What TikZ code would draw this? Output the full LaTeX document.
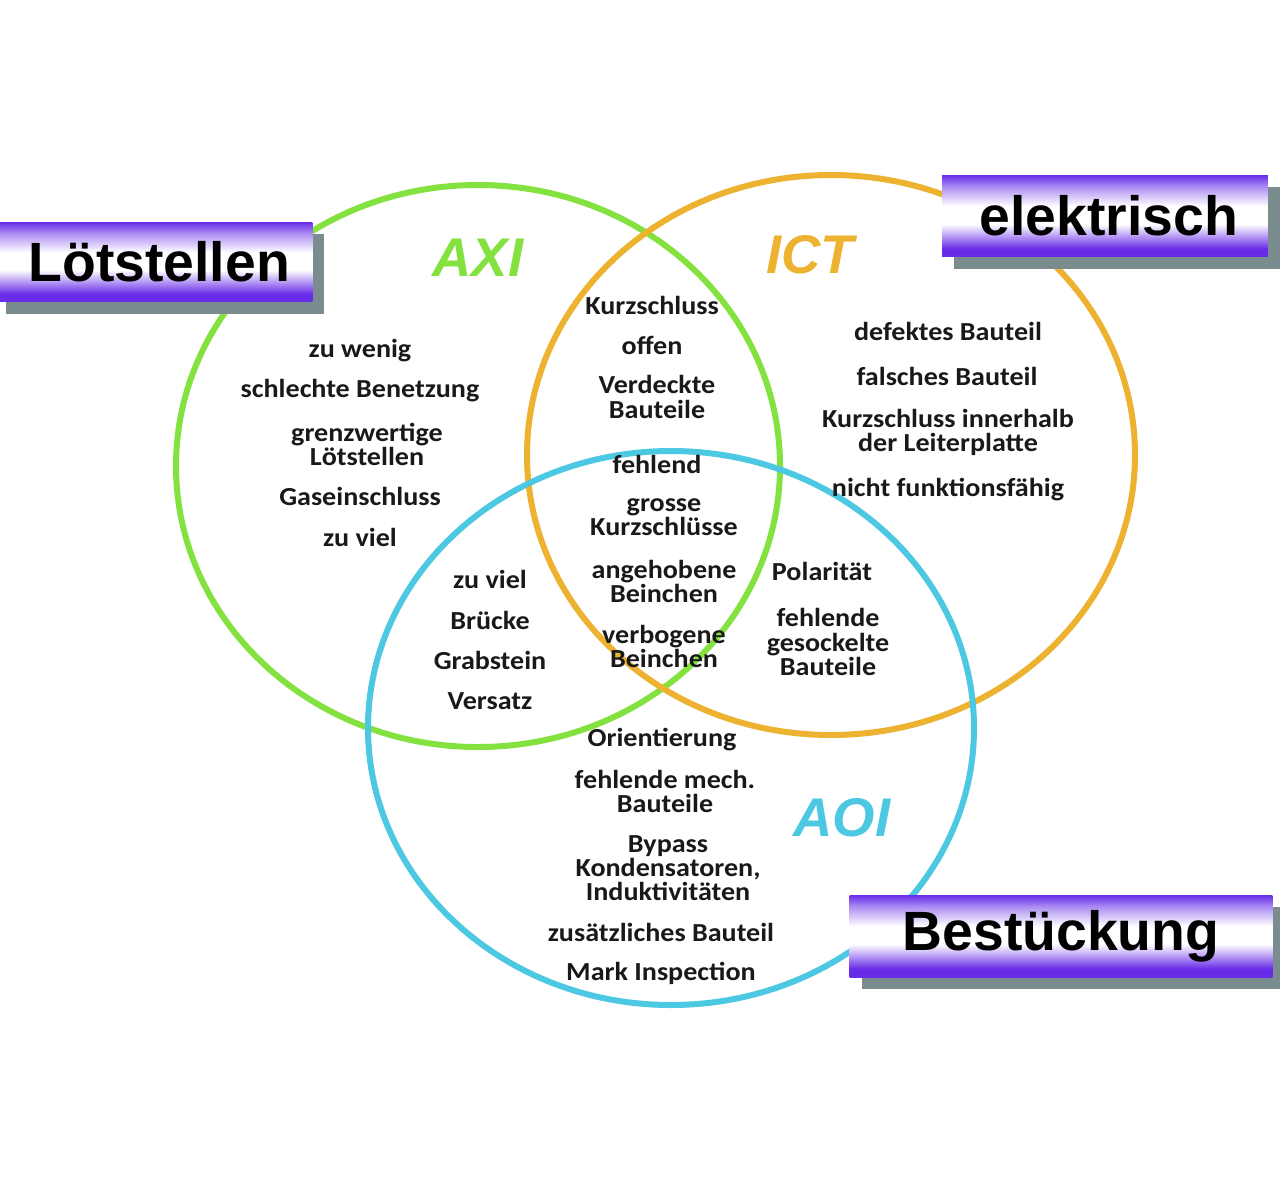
\documentclass[tikz,border=0pt]{standalone}
\usepackage{fontspec}
\newfontfamily\itemfont[FakeStretch = 1.08]{Carlito}
\newfontfamily\boxfont{Liberation Sans}
\usetikzlibrary{shadows}
\lineskiplimit = -100pt
\definecolor{axigreen}{RGB}{132,226,64}
\definecolor{ictorange}{RGB}{236,178,48}
\definecolor{aoiblue}{RGB}{76,200,226}
\definecolor{boxviolet}{RGB}{104,44,232}
\definecolor{boxshadow}{RGB}{122,140,142}
\pgfdeclareverticalshading{boxfade}{100bp}{color(0bp)=(boxviolet); color(25bp)=(boxviolet); color(30bp)=(boxviolet); color(45bp)=(white); color(56bp)=(white); color(68bp)=(boxviolet!55!white); color(75bp)=(boxviolet); color(100bp)=(boxviolet)}
\tikzset{
  ring/.style = {line width = 0.12cm},
  finding/.style = {font = \itemfont\bfseries\fontsize{14.8}{13.7}\selectfont, align = center, inner sep = 0pt, text = black!90},
  method/.style = {font = \boxfont\bfseries\itshape\fontsize{31}{36}\selectfont, inner sep = 0pt},
  labelbox/.style = {shading = boxfade, font = \boxfont\bfseries\fontsize{31.5}{36}\selectfont, inner sep = 0pt,
    general shadow = {fill = boxshadow, shadow xshift = 0.24cm, shadow yshift = -0.24cm}}
}
\begin{document}
\begin{tikzpicture}[x = 0.02cm, y = -0.02cm]
  \fill[white] (0, 0) rectangle (1280, 1190);
  \useasboundingbox (0, 0) rectangle (1280, 1190);
  \draw[ring, axigreen] (478, 466) ellipse [x radius = 302, y radius = 281];
  \draw[ring, ictorange] (831, 455) ellipse [x radius = 304, y radius = 280];
  \draw[ring, aoiblue] (671, 728) ellipse [x radius = 303, y radius = 277];
  \foreach \px/\py/\txt [count = \k] in {
      360/351/zu wenig, 360/391/schlechte Benetzung, 367/444/{grenzwertige\\Lötstellen},
      360/496/Gaseinschluss, 360/537/zu viel,
      652/305/Kurzschluss, 652/345/offen, 657/397/{Verdeckte\\Bauteile},
      657/464/fehlend, 664/517/{grosse\\Kurzschlüsse}, 664/581/{angehobene\\Beinchen},
      664/646/{verbogene\\Beinchen},
      490/579/zu viel, 490/620/Brücke, 490/660/Grabstein, 490/701/Versatz,
      948/331/defektes Bauteil, 947/376/falsches Bauteil,
      948/432/{Kurzschluss innerhalb\\der Leiterplatte}, 948/490/nicht funktionsfähig,
      822/571/Polarität, 828/642/{fehlende\\gesockelte\\Bauteile},
      662/740/Orientierung, 665/791/{fehlende mech.\\Bauteile},
      668/868/{Bypass\\Kondensatoren,\\Induktivitäten},
      661/932/zusätzliches Bauteil, 661/973/Mark Inspection}
    \node[finding] (finding\k) at (\px, \py) {\txt};
  \node[method, text = axigreen] (axi) at (478, 258) {AXI};
  \node[method, text = ictorange] (ict) at (810, 255) {ICT};
  \node[method, text = aoiblue] (aoi) at (842, 818) {AOI};
  \node[labelbox, minimum width = 6.38cm, minimum height = 1.6cm] (loetstellen) at (153, 262) {\hspace{0.25cm}Lötstellen};
  \node[labelbox, minimum width = 6.52cm, minimum height = 1.64cm] (elektrisch) at (1105, 216) {\hspace{0.15cm}elektrisch};
  \node[labelbox, minimum width = 8.46cm, minimum height = 1.64cm] (bestueckung) at (1061, 936) {Bestückung};
\end{tikzpicture}
\end{document}
